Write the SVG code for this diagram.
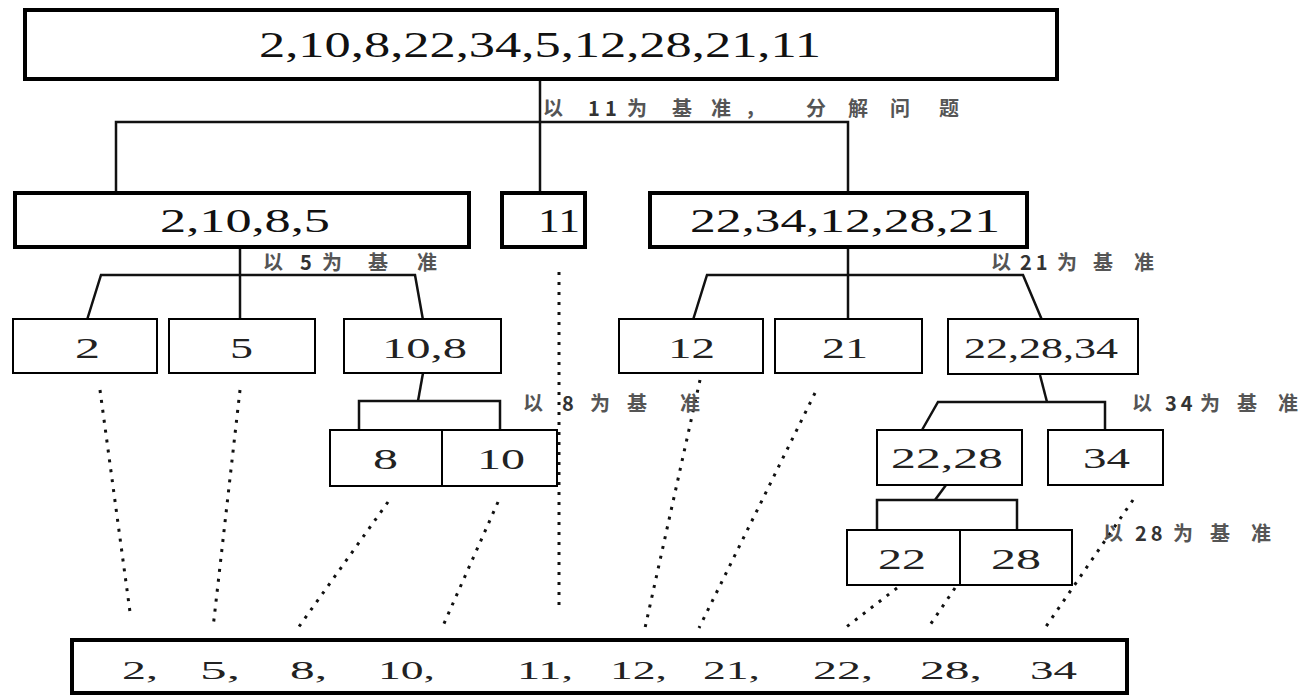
<svg xmlns="http://www.w3.org/2000/svg" width="1310" height="695" viewBox="0 0 1310 695">
<style>
.bx{fill:#fff;stroke:#000;stroke-width:2}
.bxt{fill:#fff;stroke:#000;stroke-width:4}
.t1{font-family:"Liberation Serif",serif;fill:#111;text-anchor:middle}
.t2{font-family:"Liberation Serif",serif;fill:#222;font-size:30px}
.t3{font-family:"Liberation Serif",serif;fill:#222;font-size:25px}
.lb{font-family:"Noto Sans CJK SC",sans-serif;font-size:20px;fill:#555;font-weight:bold}
.lb .d{letter-spacing:4px;fill:#333}
.ln{fill:none;stroke:#111;stroke-width:2.5}
.dt{fill:none;stroke:#111;stroke-width:3;stroke-dasharray:3 7}
</style>
<rect width="1310" height="695" fill="#fff"/>
<g id="connectors">
<polyline class="ln" points="540,79 540,193"/>
<polyline class="ln" points="116,193 116,122 848,122 848,193"/>
<polyline class="ln" points="240,247 240,320"/>
<polyline class="ln" points="87,320 101,275 415,275 423,320"/>
<polyline class="ln" points="423,373 418,401"/>
<polyline class="ln" points="359,430 359,401 500,401 500,430"/>
<polyline class="ln" points="848,247 848,320"/>
<polyline class="ln" points="693,320 707,275 1023,275 1042,320"/>
<polyline class="ln" points="1040,375 1047,402"/>
<polyline class="ln" points="922,430 938,402 1105,402 1105,430"/>
<polyline class="ln" points="946,485 935,500"/>
<polyline class="ln" points="877,530 877,500 1017,500 1017,530"/>
<line class="dt" x1="100" y1="390" x2="130" y2="612"/>
<line class="dt" x1="240" y1="390" x2="213" y2="628"/>
<line class="dt" x1="388" y1="502" x2="298" y2="628"/>
<line class="dt" x1="498" y1="502" x2="442" y2="628"/>
<line class="dt" x1="559" y1="272" x2="559" y2="612"/>
<line class="dt" x1="700" y1="380" x2="645" y2="628"/>
<line class="dt" x1="815" y1="393" x2="699" y2="628"/>
<line class="dt" x1="897" y1="588" x2="845" y2="628"/>
<line class="dt" x1="955" y1="588" x2="928" y2="628"/>
<line class="dt" x1="1133" y1="500" x2="1045" y2="628"/>
</g>
<g id="labels">
<text class="lb" y="116"><tspan x="543">以</tspan><tspan class="d" x="588">1</tspan><tspan class="d" x="605">1</tspan><tspan x="627">为</tspan><tspan x="672">基</tspan><tspan x="711">准</tspan><tspan x="745">，</tspan><tspan x="806">分</tspan><tspan x="848">解</tspan><tspan x="890">问</tspan><tspan x="939">题</tspan></text>
<text class="lb" y="270"><tspan x="263">以</tspan><tspan class="d" x="300">5</tspan><tspan x="322">为</tspan><tspan x="368">基</tspan><tspan x="417">准</tspan></text>
<text class="lb" y="270"><tspan x="991">以</tspan><tspan class="d" x="1020">21</tspan><tspan x="1057">为</tspan><tspan x="1093">基</tspan><tspan x="1134">准</tspan></text>
<text class="lb" y="411"><tspan x="523">以</tspan><tspan class="d" x="562">8</tspan><tspan x="590">为</tspan><tspan x="627">基</tspan><tspan x="680">准</tspan></text>
<text class="lb" y="411"><tspan x="1132">以</tspan><tspan class="d" x="1165">34</tspan><tspan x="1200">为</tspan><tspan x="1237">基</tspan><tspan x="1278">准</tspan></text>
<text class="lb" y="541"><tspan x="1103">以</tspan><tspan class="d" x="1135">28</tspan><tspan x="1173">为</tspan><tspan x="1210">基</tspan><tspan x="1251">准</tspan></text>
</g>
<g id="n-root"><rect class="bxt" x="25" y="10" width="1032" height="69"/><text class="t1" x="540" y="57" font-size="36" textLength="562" lengthAdjust="spacingAndGlyphs">2,10,8,22,34,5,12,28,21,11</text></g>
<g id="n-left"><rect class="bxt" x="15" y="193" width="454" height="54"/><text class="t1" x="245" y="232" font-size="33" textLength="170" lengthAdjust="spacingAndGlyphs">2,10,8,5</text></g>
<g id="n-11"><rect class="bxt" x="502" y="193" width="83" height="54"/><text class="t1" x="559" y="232" font-size="33" textLength="42" lengthAdjust="spacingAndGlyphs">11</text></g>
<g id="n-right"><rect class="bxt" x="650" y="193" width="377" height="54"/><text class="t1" x="845" y="232" font-size="33" textLength="310" lengthAdjust="spacingAndGlyphs">22,34,12,28,21</text></g>
<g id="n-2"><rect class="bx" x="13" y="319" width="144" height="54"/><text class="t2" x="75" y="358" textLength="25" lengthAdjust="spacingAndGlyphs">2</text></g>
<g id="n-5"><rect class="bx" x="169" y="319" width="146" height="54"/><text class="t2" x="230" y="358" textLength="23" lengthAdjust="spacingAndGlyphs">5</text></g>
<g id="n-10-8"><rect class="bx" x="344" y="319" width="157" height="54"/><text class="t2" x="382" y="358" textLength="85" lengthAdjust="spacingAndGlyphs">10,8</text></g>
<g id="n-8"><rect class="bx" x="330" y="430" width="112" height="56"/><text class="t2" x="373" y="469" textLength="25" lengthAdjust="spacingAndGlyphs">8</text></g>
<g id="n-10"><rect class="bx" x="442" y="430" width="115" height="56"/><text class="t2" x="477" y="469" textLength="48" lengthAdjust="spacingAndGlyphs">10</text></g>
<g id="n-12"><rect class="bx" x="619" y="319" width="144" height="54"/><text class="t2" x="668" y="358" textLength="47" lengthAdjust="spacingAndGlyphs">12</text></g>
<g id="n-21"><rect class="bx" x="775" y="319" width="147" height="54"/><text class="t2" x="822" y="358" textLength="46" lengthAdjust="spacingAndGlyphs">21</text></g>
<g id="n-22-28-34"><rect class="bx" x="948" y="319" width="190" height="55"/><text class="t2" x="964" y="358" textLength="154" lengthAdjust="spacingAndGlyphs">22,28,34</text></g>
<g id="n-22-28"><rect class="bx" x="877" y="430" width="145" height="55"/><text class="t2" x="891" y="468" textLength="112" lengthAdjust="spacingAndGlyphs">22,28</text></g>
<g id="n-34"><rect class="bx" x="1048" y="430" width="115" height="55"/><text class="t2" x="1083" y="468" textLength="47" lengthAdjust="spacingAndGlyphs">34</text></g>
<g id="n-22"><rect class="bx" x="847" y="530" width="113" height="55"/><text class="t2" x="878" y="569" textLength="48" lengthAdjust="spacingAndGlyphs">22</text></g>
<g id="n-28"><rect class="bx" x="960" y="530" width="112" height="55"/><text class="t2" x="991" y="569" textLength="50" lengthAdjust="spacingAndGlyphs">28</text></g>
<g id="n-result"><rect class="bxt" x="72" y="640" width="1055" height="53"/>
<text class="t3" x="122" y="679" textLength="36" lengthAdjust="spacingAndGlyphs">2,</text>
<text class="t3" x="200" y="679" textLength="40" lengthAdjust="spacingAndGlyphs">5,</text>
<text class="t3" x="290" y="679" textLength="37" lengthAdjust="spacingAndGlyphs">8,</text>
<text class="t3" x="378" y="679" textLength="57" lengthAdjust="spacingAndGlyphs">10,</text>
<text class="t3" x="517" y="679" textLength="56" lengthAdjust="spacingAndGlyphs">11,</text>
<text class="t3" x="610" y="679" textLength="57" lengthAdjust="spacingAndGlyphs">12,</text>
<text class="t3" x="703" y="679" textLength="57" lengthAdjust="spacingAndGlyphs">21,</text>
<text class="t3" x="813" y="679" textLength="60" lengthAdjust="spacingAndGlyphs">22,</text>
<text class="t3" x="920" y="679" textLength="62" lengthAdjust="spacingAndGlyphs">28,</text>
<text class="t3" x="1030" y="679" textLength="47" lengthAdjust="spacingAndGlyphs">34</text>
</g>
</svg>
